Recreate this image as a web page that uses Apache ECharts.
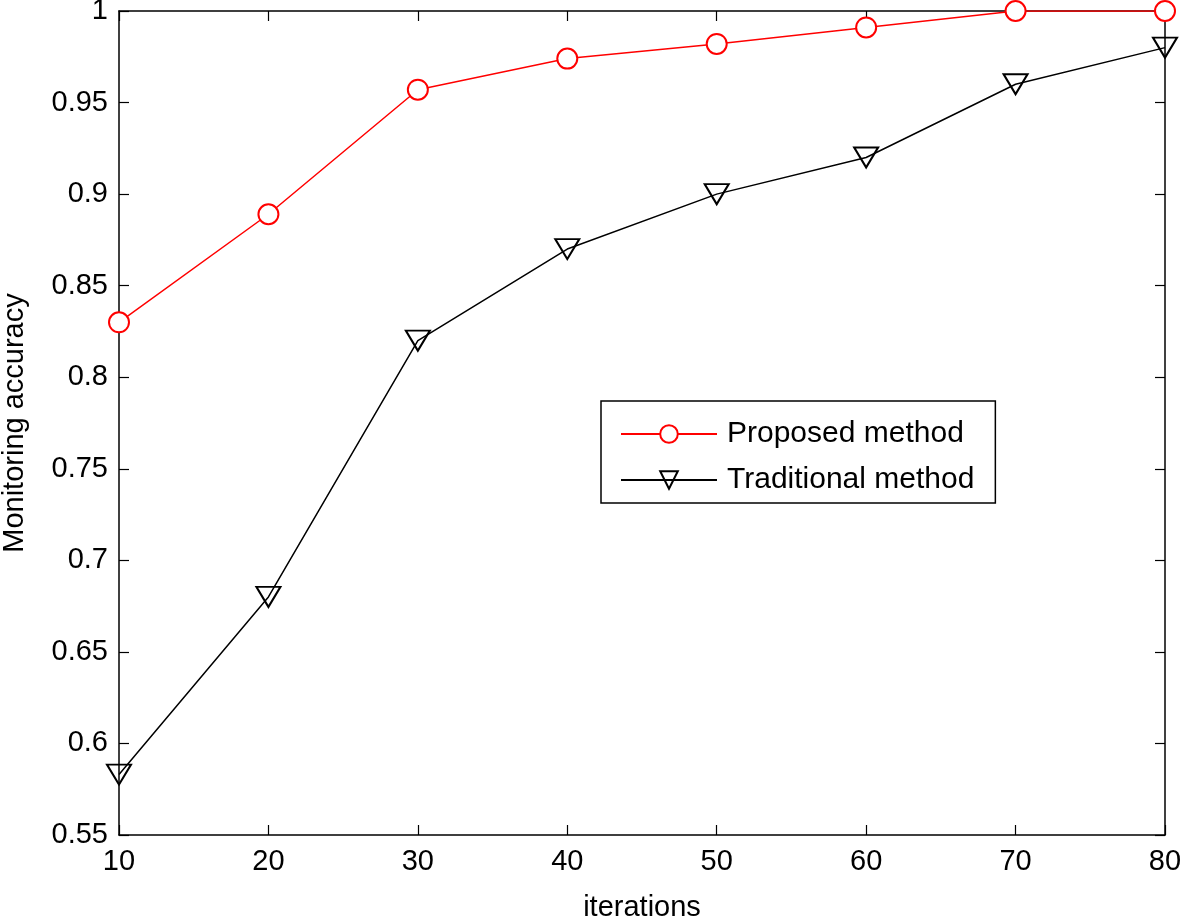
<!DOCTYPE html>
<html>
<head>
<meta charset="utf-8">
<script src="https://cdn.jsdelivr.net/npm/echarts@6/dist/echarts.min.js"></script>
<style>html,body{margin:0;padding:0;background:#fff}#c{width:1181px;height:917px}</style>
</head>
<body>
<div id="c"></div>
<script>
const iterations = [10, 20, 30, 40, 50, 60, 70, 80];
const proposed = [0.830, 0.889, 0.957, 0.974, 0.982, 0.991, 1.0, 1.0];
const traditional = [0.583, 0.680, 0.820, 0.870, 0.900, 0.920, 0.960, 0.980];
const xTicks = [10, 20, 30, 40, 50, 60, 70, 80];
const yTicks = [0.55, 0.6, 0.65, 0.7, 0.75, 0.8, 0.85, 0.9, 0.95, 1];

const font = 'Liberation Sans, Arial, Helvetica, sans-serif';
const chart = echarts.init(document.getElementById('c'));
const axisCommon = {
  axisLine: {show: true, onZero: false, lineStyle: {color: '#000', width: 1.5}},
  axisTick: {show: true, inside: true, length: 10, lineStyle: {color: '#000', width: 1.2}},
  splitLine: {show: false}
};
chart.setOption({
  animation: false,
  backgroundColor: '#fff',
  grid: {left: 119, right: 16, top: 11, bottom: 82, outerBoundsMode: 'none', containLabel: false},
  legend: {
    orient: 'vertical',
    left: 601, top: 401,
    backgroundColor: '#fff',
    borderColor: '#000', borderWidth: 1.5, borderRadius: 0,
    padding: [18, 21, 8, 19],
    itemGap: 16,
    itemWidth: 96, itemHeight: 22,
    textStyle: {fontFamily: font, fontSize: 30, lineHeight: 30, color: '#000', padding: [0, 0, 0, 5]},
    data: ['Proposed method', 'Traditional method']
  },
  xAxis: [
    Object.assign({}, axisCommon, {
      type: 'value', min: 10, max: 80, interval: 10,
      name: 'iterations', nameLocation: 'middle', nameGap: 58,
      nameTextStyle: {fontFamily: font, fontSize: 29, color: '#000'},
      axisLabel: {fontFamily: font, fontSize: 29, color: '#000', margin: 12,
        customValues: xTicks}
    }),
    Object.assign({}, axisCommon, {
      type: 'value', min: 10, max: 80, interval: 10, position: 'top',
      axisLabel: {show: false}
    })
  ],
  yAxis: [
    Object.assign({}, axisCommon, {
      type: 'value', min: 0.55, max: 1, interval: 0.05,
      name: 'Monitoring accuracy', nameLocation: 'middle', nameGap: 90,
      nameTextStyle: {fontFamily: font, fontSize: 29, color: '#000'},
      axisLabel: {fontFamily: font, fontSize: 29, color: '#000', margin: 11,
        formatter: v => String(+v.toFixed(2))}
    }),
    Object.assign({}, axisCommon, {
      type: 'value', min: 0.55, max: 1, interval: 0.05, position: 'right',
      axisLabel: {show: false}
    })
  ],
  series: [
    {
      name: 'Proposed method', type: 'line',
      data: iterations.map((x, i) => [x, proposed[i]]),
      symbol: 'emptyCircle', symbolSize: 20,
      itemStyle: {color: '#ff0000', borderColor: '#ff0000', borderWidth: 1.5},
      lineStyle: {color: '#ff0000', width: 1.5},
      z: 3
    },
    {
      name: 'Traditional method', type: 'line',
      data: iterations.map((x, i) => [x, traditional[i]]),
      symbol: 'path://M0,0 L24,0 L12,20 Z', symbolSize: [24, 20],
      itemStyle: {color: 'rgba(255,255,255,0)', borderColor: '#000', borderWidth: 2},
      lineStyle: {color: '#000', width: 1.5},
      z: 2
    }
  ]
});
</script>
</body>
</html>
